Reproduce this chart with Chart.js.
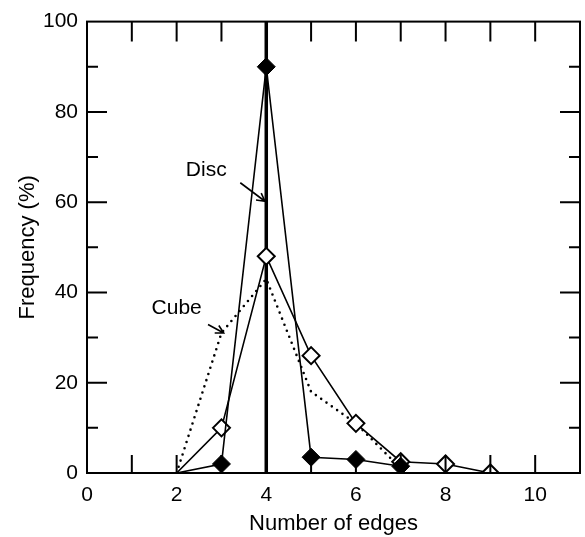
<!DOCTYPE html>
<html>
<head>
<meta charset="utf-8">
<script src="https://cdn.jsdelivr.net/npm/chart.js@4/dist/chart.umd.min.js"></script>
<style>
  html, body { margin: 0; padding: 0; background: #fff; }
  #wrap { width: 585px; height: 537px; position: relative; }
</style>
</head>
<body>
<div id="wrap"><canvas id="c" width="585" height="537"></canvas></div>
<script>
// ---- data ----
const openEdges   = [2, 3, 4, 5, 6, 7, 8, 9];
const openFreq    = [0, 10, 48, 26, 11, 2.5, 2, 0];
const filledEdges = [2, 3, 4, 5, 6, 7];
const filledFreq  = [0, 2, 90, 3.5, 3, 1.5];
const cubeEdges   = [2, 3, 4, 5, 6, 7];
const cubeFreq    = [0, 31, 43, 18, 11, 1];
const discEdges   = [4, 4];
const discFreq    = [0, 100];
const xTickLabels = [0, 2, 4, 6, 8, 10];
const yTickLabels = [0, 20, 40, 60, 80, 100];
const annotations = [
  { text: 'Disc', x: 2.66, y: 67, from: [3.42, 64.3], to: [3.97, 60.2] },
  { text: 'Cube', x: 2.0,  y: 36.5, from: [2.7, 32.9], to: [3.05, 31.0] }
];

const FONT = '"Liberation Sans", Arial, Helvetica, sans-serif';
const pts = (xs, ys) => xs.map((x, i) => ({ x: x, y: ys[i] }));

const frameAndTicks = {
  id: 'frameAndTicks',
  afterDatasetsDraw(chart) {
    const { ctx, chartArea: a, scales: { x, y } } = chart;
    ctx.save();
    ctx.strokeStyle = '#000';
    ctx.lineWidth = 2;
    ctx.strokeRect(a.left, a.top, a.right - a.left, a.bottom - a.top);
    ctx.beginPath();
    for (let v = 10; v < 100; v += 10) {
      const py = y.getPixelForValue(v);
      const len = v % 20 === 0 ? 20 : 11;
      ctx.moveTo(a.left, py); ctx.lineTo(a.left + len, py);
      ctx.moveTo(a.right, py); ctx.lineTo(a.right - len, py);
    }
    for (let v = 1; v <= 10; v++) {
      const px = x.getPixelForValue(v);
      ctx.moveTo(px, a.top); ctx.lineTo(px, a.top + 20);
      ctx.moveTo(px, a.bottom); ctx.lineTo(px, a.bottom - 18);
    }
    ctx.stroke();

    // annotations
    ctx.fillStyle = '#000';
    ctx.font = '21px ' + FONT;
    ctx.textAlign = 'center';
    ctx.textBaseline = 'middle';
    ctx.lineWidth = 1.6;
    annotations.forEach(an => {
      ctx.fillText(an.text, x.getPixelForValue(an.x), y.getPixelForValue(an.y));
      const x1 = x.getPixelForValue(an.from[0]), y1 = y.getPixelForValue(an.from[1]);
      const x2 = x.getPixelForValue(an.to[0]),   y2 = y.getPixelForValue(an.to[1]);
      const ang = Math.atan2(y2 - y1, x2 - x1);
      ctx.beginPath();
      ctx.moveTo(x1, y1); ctx.lineTo(x2, y2);
      ctx.moveTo(x2 - 9 * Math.cos(ang - 0.5), y2 - 9 * Math.sin(ang - 0.5));
      ctx.lineTo(x2, y2);
      ctx.lineTo(x2 - 9 * Math.cos(ang + 0.5), y2 - 9 * Math.sin(ang + 0.5));
      ctx.stroke();
    });
    ctx.restore();
  }
};

new Chart(document.getElementById('c'), {
  type: 'scatter',
  data: {
    datasets: [
      { label: 'Disc', data: pts(discEdges, discFreq), showLine: true,
        borderColor: '#000', borderWidth: 3.5, pointRadius: 0, order: 4 },
      { label: 'Cube', data: pts(cubeEdges, cubeFreq), showLine: true,
        borderColor: '#000', borderWidth: 2.6, borderDash: [0, 6.5], borderCapStyle: 'round',
        pointRadius: 0, order: 3 },
      { label: 'Open', data: pts(openEdges, openFreq), showLine: true,
        borderColor: '#000', borderWidth: 1.6, pointStyle: 'rectRot',
        pointRadius: openEdges.map((e, i) => i === 0 ? 0 : 8.5),
        pointBackgroundColor: '#fff', pointBorderColor: '#000', pointBorderWidth: 2, order: 2 },
      { label: 'Filled', data: pts(filledEdges, filledFreq), showLine: true,
        borderColor: '#000', borderWidth: 1.6, pointStyle: 'rectRot',
        pointRadius: filledEdges.map((e, i) => i === 0 ? 0 : 9),
        pointBackgroundColor: '#000', pointBorderColor: '#000', pointBorderWidth: 1, order: 1 }
    ]
  },
  options: {
    responsive: false,
    animation: false,
    layout: { autoPadding: false, padding: { top: 18, right: 5, left: 0, bottom: 0 } },
    plugins: { legend: { display: false }, tooltip: { enabled: false } },
    scales: {
      x: {
        type: 'linear', min: 0, max: 11,
        afterBuildTicks: s => { s.ticks = xTickLabels.map(v => ({ value: v })); },
        afterFit: s => { s.height = 64; s.paddingRight = 0; s.paddingLeft = 0; },
        grid: { display: false, drawTicks: false },
        border: { display: false },
        ticks: { color: '#000', padding: 10, maxRotation: 0, font: { family: FONT, size: 21 } },
        title: { display: true, text: 'Number of edges', color: '#000',
                 font: { family: FONT, size: 22 }, padding: { top: 3, bottom: 0 } }
      },
      y: {
        type: 'linear', min: 0, max: 100,
        afterBuildTicks: s => { s.ticks = yTickLabels.map(v => ({ value: v })); },
        afterFit: s => { s.width = 87; },
        grid: { display: false, drawTicks: false },
        border: { display: false },
        ticks: { color: '#000', padding: 9, font: { family: FONT, size: 21 } },
        title: { display: true, text: 'Frequency (%)', color: '#000',
                 font: { family: FONT, size: 22 }, padding: { top: 15, bottom: 0 } }
      }
    }
  },
  plugins: [frameAndTicks]
});
</script>
</body>
</html>
